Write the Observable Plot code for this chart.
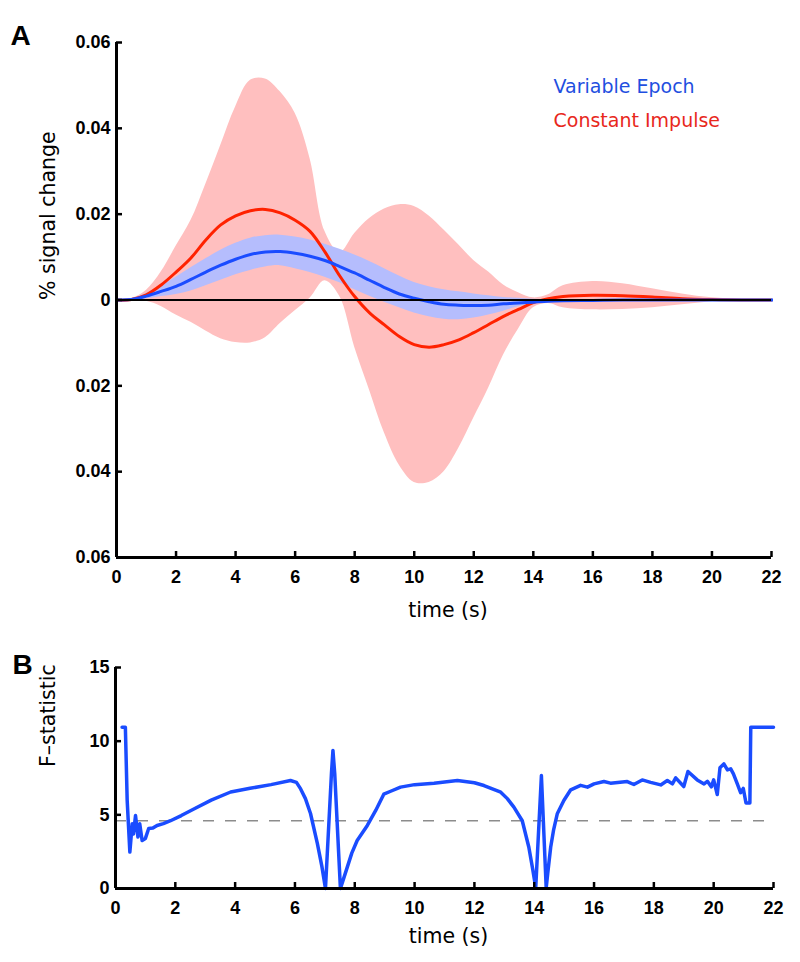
<!DOCTYPE html>
<html><head><meta charset="utf-8">
<script src="https://cdn.jsdelivr.net/npm/d3@7"></script>
<script src="https://cdn.jsdelivr.net/npm/@observablehq/plot@0.6"></script>
<style>body{margin:0;background:#fff} #chart svg{display:block}</style>
</head><body><div id="chart"></div>
<script>
// ---------- Panel A data ----------
const tA = [0,0.5,1,1.5,2,2.5,3,3.5,4,4.5,5,5.5,6,6.5,7,7.5,8,8.5,9,9.5,10,10.5,11,11.5,12,12.5,13,13.5,14,14.5,15,16,17,18,19,20,21,22];
const redMean = [0,0.0001,0.0012,0.0035,0.0065,0.0098,0.014,0.0175,0.0196,0.0208,0.0211,0.0203,0.0186,0.016,0.0112,0.0056,0.0008,-0.003,-0.0058,-0.0085,-0.0104,-0.011,-0.0104,-0.0093,-0.0076,-0.0057,-0.0038,-0.0022,-0.0006,0.0003,0.0008,0.0011,0.001,0.0007,0.0003,0.0001,0,0];
const redHi = [0,0.0003,0.0022,0.0065,0.0125,0.0185,0.027,0.036,0.045,0.0512,0.0515,0.0485,0.0435,0.033,0.016,0.011,0.0155,0.019,0.0212,0.0222,0.0218,0.0196,0.0163,0.0128,0.0092,0.0065,0.0035,0.0017,0.0005,0.0012,0.0033,0.0043,0.0038,0.0026,0.0014,0.0005,0.0001,0];
const redLo = [0,-0.0001,-0.0003,-0.0015,-0.0035,-0.0052,-0.0072,-0.009,-0.0099,-0.01,-0.0088,-0.0055,-0.0025,0.0004,0.0045,0.0008,-0.011,-0.021,-0.031,-0.0385,-0.0425,-0.0425,-0.04,-0.0345,-0.0275,-0.0205,-0.0128,-0.0068,-0.0018,-0.0008,-0.0018,-0.0023,-0.0022,-0.0018,-0.0011,-0.0004,-0.0001,0];
const blueMean = [0,0.0001,0.0009,0.002,0.0032,0.0048,0.0065,0.0081,0.0095,0.0106,0.0112,0.0113,0.0109,0.0102,0.0092,0.0078,0.0063,0.0046,0.0029,0.0014,0.0004,-0.0004,-0.001,-0.0012,-0.0013,-0.0012,-0.0009,-0.0007,-0.0005,-0.0003,-0.0002,-0.0001,0,0,0,0,0,0];
const blueHi = [0,0.0002,0.0015,0.0033,0.0053,0.0075,0.0096,0.0116,0.0132,0.0144,0.015,0.0151,0.0147,0.014,0.013,0.0118,0.0105,0.009,0.0073,0.0056,0.0041,0.0031,0.0024,0.0019,0.0014,0.001,0.0006,0.0004,0.0002,0.0001,0,0,0,0,0,0,0,0];
const blueLo = [0,0,0.0003,0.0008,0.0013,0.0021,0.0033,0.0046,0.0059,0.0069,0.0077,0.008,0.0073,0.0064,0.0053,0.004,0.0024,0.0009,-0.0005,-0.0018,-0.003,-0.0039,-0.0045,-0.0046,-0.0042,-0.0035,-0.0026,-0.0016,-0.0009,-0.0005,-0.0003,-0.0001,0,0,0,0,0,0];

// ---------- Panel B data ----------
const tB = [0.22,0.33,0.39,0.48,0.56,0.6,0.67,0.75,0.81,0.89,1.0,1.11,1.25,1.39,1.6,1.84,2.2,2.62,3.2,3.85,4.2,4.5,5.2,5.85,6.05,6.19,6.35,6.52,6.75,6.9,7.02,7.22,7.27,7.33,7.52,7.6,7.75,7.9,8.08,8.42,8.7,8.97,9.2,9.53,10.0,10.65,11.43,12.0,12.32,12.88,13.1,13.32,13.6,13.82,13.95,14.05,14.24,14.4,14.45,14.55,14.65,14.77,14.99,15.22,15.55,15.78,16.0,16.33,16.55,17.11,17.33,17.61,17.89,18.23,18.45,18.62,18.73,19.0,19.14,19.45,19.68,19.79,19.92,20.0,20.12,20.21,20.34,20.46,20.57,20.66,20.79,20.9,20.99,21.08,21.21,21.24,22.0];
const fStat = [10.95,10.95,6.0,2.47,4.4,3.7,4.95,3.5,4.4,3.26,3.4,4.07,4.1,4.28,4.4,4.6,4.95,5.4,6.0,6.55,6.68,6.8,7.05,7.33,7.2,6.76,6.1,5.09,3.05,1.5,0,7.8,9.37,7.8,0,0.5,1.45,2.4,3.26,4.28,5.3,6.4,6.6,6.88,7.05,7.15,7.33,7.18,6.99,6.54,6.1,5.52,4.6,2.8,1.3,0.05,7.67,0.05,1.0,2.8,4.0,5.07,5.97,6.7,7.0,6.88,7.1,7.26,7.15,7.26,7.06,7.37,7.2,7.03,7.33,7.1,7.51,6.92,7.94,7.37,7.1,7.28,6.9,7.37,6.38,8.19,8.46,8.05,8.12,7.78,7.1,6.5,6.79,5.8,5.8,10.95,10.95];
const fThreshold = [4.6];

// ---------- axes / labels ----------
const xDomain = [0, 22];
const yDomainA = [-0.06, 0.06];
const yDomainB = [0, 15];
const xTicks = [0,2,4,6,8,10,12,14,16,18,20,22];
const yTicksA = [-0.06,-0.04,-0.02,0,0.02,0.04,0.06];
const yTicksB = [0,5,10,15];
const zeroLine = [0];
const legendLabels = ["Variable Epoch", "Constant Impulse"];
const legendColors = ["#1f4fe0", "#e8281c"];

const rowsA = tA.map((t, i) => ({t, redMean: redMean[i], redHi: redHi[i], redLo: redLo[i], blueMean: blueMean[i], blueHi: blueHi[i], blueLo: blueLo[i]}));
const rowsB = tB.map((t, i) => ({t, f: fStat[i]}));

const tickFont = {fontSize: 18, fontWeight: "bold", fontFamily: "'Liberation Sans', Arial, sans-serif"};
const labelFont = "'DejaVu Sans', sans-serif";

const A = Plot.plot({
  width: 800, height: 640,
  marginLeft: 116, marginRight: 29, marginTop: 42, marginBottom: 83,
  x: {domain: xDomain},
  y: {domain: yDomainA},
  style: {background: "white", overflow: "visible"},
  marks: [
    Plot.areaY(rowsA, {x: "t", y1: "redLo", y2: "redHi", fill: "#ffbfbf", curve: "catmull-rom"}),
    Plot.areaY(rowsA, {x: "t", y1: "blueLo", y2: "blueHi", fill: "#b5bdfd", curve: "catmull-rom"}),
    Plot.lineY(rowsA, {x: "t", y: "redMean", stroke: "#ff2200", strokeWidth: 3, curve: "catmull-rom"}),
    Plot.lineY(rowsA, {x: "t", y: "blueMean", stroke: "#1a4cff", strokeWidth: 3, curve: "catmull-rom", strokeLinecap: "square"}),
    Plot.ruleY(zeroLine, {stroke: "black", strokeWidth: 2}),
    Plot.ruleX([xDomain[0]], {stroke: "black", strokeWidth: 3}),
    Plot.ruleY([yDomainA[0]], {stroke: "black", strokeWidth: 3}),
    Plot.axisY({ticks: yTicksA, tickFormat: d => d === 0 ? "0" : Math.abs(d).toFixed(2), tickSize: -6, tickPadding: 12, strokeWidth: 2.5, label: null, ...tickFont}),
    Plot.axisX({ticks: xTicks, tickFormat: d => String(d), tickSize: -6, tickPadding: 19, strokeWidth: 2.5, label: null, ...tickFont}),
    Plot.text(["% signal change"], {text: d => d, frameAnchor: "left", dx: -68, rotate: -90, fontSize: 20.5, fontFamily: labelFont, fill: "black"}),
    Plot.text(["time (s)"], {text: d => d, frameAnchor: "bottom", dx: 4, dy: 59, fontSize: 20.5, fontFamily: labelFont, fill: "black"}),
    Plot.text(["A"], {text: d => d, frameAnchor: "top-left", dx: -106, dy: -17, fontSize: 28, fontWeight: "bold", fontFamily: "'Liberation Sans', Arial, sans-serif", textAnchor: "start", fill: "black"}),
    Plot.text([legendLabels[0]], {text: d => d, frameAnchor: "top-left", dx: 437, dy: 37, textAnchor: "start", fontSize: 19, fontFamily: labelFont, fill: legendColors[0]}),
    Plot.text([legendLabels[1]], {text: d => d, frameAnchor: "top-left", dx: 437, dy: 71, textAnchor: "start", fontSize: 19, fontFamily: labelFont, fill: legendColors[1]})
  ]
});

const B = Plot.plot({
  width: 800, height: 322,
  marginLeft: 115, marginRight: 27, marginTop: 27, marginBottom: 74,
  x: {domain: xDomain},
  y: {domain: yDomainB},
  style: {background: "white", overflow: "visible"},
  marks: [
    Plot.ruleY(fThreshold, {stroke: "#8c8c8c", strokeWidth: 1.6, strokeDasharray: "11,11"}),
    Plot.lineY(rowsB, {x: "t", y: "f", stroke: "#1a4cff", strokeWidth: 3.5}),
    Plot.ruleX([xDomain[0]], {stroke: "black", strokeWidth: 3}),
    Plot.ruleY([yDomainB[0]], {stroke: "black", strokeWidth: 3}),
    Plot.axisY({ticks: yTicksB, tickFormat: d => String(d), tickSize: -6, tickPadding: 12, strokeWidth: 2.5, label: null, ...tickFont}),
    Plot.axisX({ticks: xTicks, tickFormat: d => String(d), tickSize: -6, tickPadding: 19, strokeWidth: 2.5, label: null, ...tickFont}),
    Plot.text(["F–statistic"], {text: d => d, frameAnchor: "left", dx: -67, dy: -11, rotate: -90, fontSize: 20.5, fontFamily: labelFont, fill: "black"}),
    Plot.text(["time (s)"], {text: d => d, frameAnchor: "bottom", dx: 4, dy: 54, fontSize: 20.5, fontFamily: labelFont, fill: "black"}),
    Plot.text(["B"], {text: d => d, frameAnchor: "top-left", dx: -103, dy: -13, fontSize: 28, fontWeight: "bold", fontFamily: "'Liberation Sans', Arial, sans-serif", textAnchor: "start", fill: "black"})
  ]
});

const chart = document.getElementById("chart");
chart.appendChild(A);
chart.appendChild(B);
</script></body></html>
